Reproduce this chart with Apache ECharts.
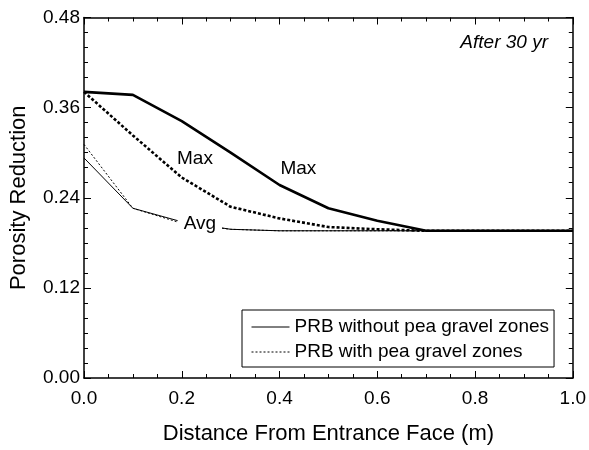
<!DOCTYPE html>
<html>
<head>
<meta charset="utf-8">
<script src="https://cdn.jsdelivr.net/npm/echarts@6/dist/echarts.min.js"></script>
<style>
  html, body { margin: 0; padding: 0; background: #fff; }
  #chart { width: 589px; height: 450px; }
</style>
</head>
<body>
<div id="chart"></div>
<script>
// Distance from the entrance face (m)
const distance = [0, 0.1, 0.2, 0.3, 0.4, 0.5, 0.6, 0.7, 1.0];

// Porosity reduction after 30 years
const maxWithout = [0.381, 0.377, 0.342, 0.300, 0.257, 0.226, 0.2095, 0.196, 0.196];
const maxWith    = [0.381, 0.323, 0.267, 0.228, 0.2125, 0.201, 0.198, 0.196, 0.196];
const avgWithout = [0.293, 0.226, 0.208, 0.198, 0.196, 0.196, 0.196, 0.196, 0.196];
const avgWith    = [0.311, 0.226, 0.206, 0.198, 0.196, 0.196, 0.196, 0.196, 0.196];

const legendNames = ['PRB without pea gravel zones', 'PRB with pea gravel zones'];
const xTicks = [0, 0.2, 0.4, 0.6, 0.8, 1.0];
const yTicks = [0, 0.12, 0.24, 0.36, 0.48];

const FONT = 'Arial, "Liberation Sans", sans-serif';
const pairs = (ys) => distance.map((x, i) => [x, ys[i]]);

function axisBase(extra) {
  return Object.assign({
    type: 'value',
    axisLine: { show: true, onZero: false, lineStyle: { color: '#000', width: 1.5 } },
    axisTick: { show: true, inside: true, length: 7, lineStyle: { color: '#000', width: 1 } },
    splitLine: { show: false },
    minorSplitLine: { show: false }
  }, extra);
}

const chart = echarts.init(document.getElementById('chart'), null, { renderer: 'canvas' });

chart.setOption({
  animation: false,
  backgroundColor: '#fff',
  textStyle: { fontFamily: FONT, color: '#000' },
  grid: { left: 83, right: 13, top: 17.5, bottom: 67.5 },
  title: {
    text: 'After 30 yr',
    right: 36,
    top: 28,
    textStyle: { fontFamily: FONT, fontSize: 19, fontStyle: 'italic', fontWeight: 'normal', color: '#000' }
  },
  legend: {
    data: legendNames.map((n, i) => ({
      name: n,
      itemStyle: { opacity: 0 },
      lineStyle: { width: 1, type: i === 0 ? 'solid' : [2, 2], color: '#000', opacity: 1 }
    })),
    orient: 'vertical',
    left: 242,
    top: 310,
    padding: [7, 5, 5, 9],
    itemWidth: 38,
    itemHeight: 14,
    itemGap: 5,
    borderColor: '#000',
    borderWidth: 1,
    textStyle: { fontFamily: FONT, fontSize: 19, lineHeight: 20, color: '#000' }
  },
  xAxis: [
    axisBase({
      min: 0, max: 1, interval: 0.2, position: 'bottom',
      minorTick: { show: true, splitNumber: 4, length: 4, lineStyle: { color: '#000' } },
      axisLabel: {
        show: true, fontSize: 19, color: '#000', margin: 11, fontFamily: FONT,
        formatter: (v) => xTicks.some(t => Math.abs(t - v) < 1e-9) ? v.toFixed(1) : ''
      },
      name: 'Distance From Entrance Face (m)',
      nameLocation: 'middle',
      nameGap: 45,
      nameTextStyle: { fontFamily: FONT, fontSize: 22, color: '#000' }
    }),
    axisBase({
      min: 0, max: 1, interval: 0.2, position: 'top',
      minorTick: { show: true, splitNumber: 4, length: 4, lineStyle: { color: '#000' } },
      axisLabel: { show: false }
    })
  ],
  yAxis: [
    axisBase({
      min: 0, max: 0.48, interval: 0.12, position: 'left',
      minorTick: { show: true, splitNumber: 6, length: 4, lineStyle: { color: '#000' } },
      axisLabel: {
        show: true, fontSize: 19, color: '#000', margin: 4, fontFamily: FONT,
        formatter: (v) => yTicks.some(t => Math.abs(t - v) < 1e-9) ? v.toFixed(2) : ''
      },
      name: 'Porosity Reduction',
      nameLocation: 'middle',
      nameGap: 54,
      nameTextStyle: { fontFamily: FONT, fontSize: 22, color: '#000' }
    }),
    axisBase({
      min: 0, max: 0.48, interval: 0.12, position: 'right',
      minorTick: { show: true, splitNumber: 6, length: 4, lineStyle: { color: '#000' } },
      axisLabel: { show: false }
    })
  ],
  series: [
    {
      name: legendNames[0], type: 'line', symbol: 'none', z: 3,
      data: pairs(avgWithout),
      lineStyle: { color: '#000', width: 1, type: 'solid' }
    },
    {
      name: legendNames[1], type: 'line', symbol: 'none', z: 3,
      data: pairs(avgWith),
      lineStyle: { color: '#000', width: 1, type: [2, 2] }
    },
    {
      name: legendNames[0], type: 'line', symbol: 'none', z: 3,
      data: pairs(maxWithout),
      lineStyle: { color: '#000', width: 2.6, type: 'solid' }
    },
    {
      name: legendNames[1], type: 'line', symbol: 'none', z: 3,
      data: pairs(maxWith),
      lineStyle: { color: '#000', width: 2.6, type: [3, 2] }
    },
    {
      // curve annotations
      name: 'notes', type: 'scatter', symbolSize: 0, z: 10, silent: true,
      itemStyle: { opacity: 1, color: '#000' },
      data: [
        { value: [0.227, 0.292], label: { formatter: 'Max' } },
        { value: [0.4385, 0.279], label: { formatter: 'Max' } },
        { value: [0.237, 0.206], label: { formatter: 'Avg', backgroundColor: '#fff', padding: [0, 6] } }
      ],
      label: {
        show: true, position: 'inside', fontFamily: FONT, fontSize: 19, color: '#000', opacity: 1
      }
    }
  ]
});
</script>
</body>
</html>
